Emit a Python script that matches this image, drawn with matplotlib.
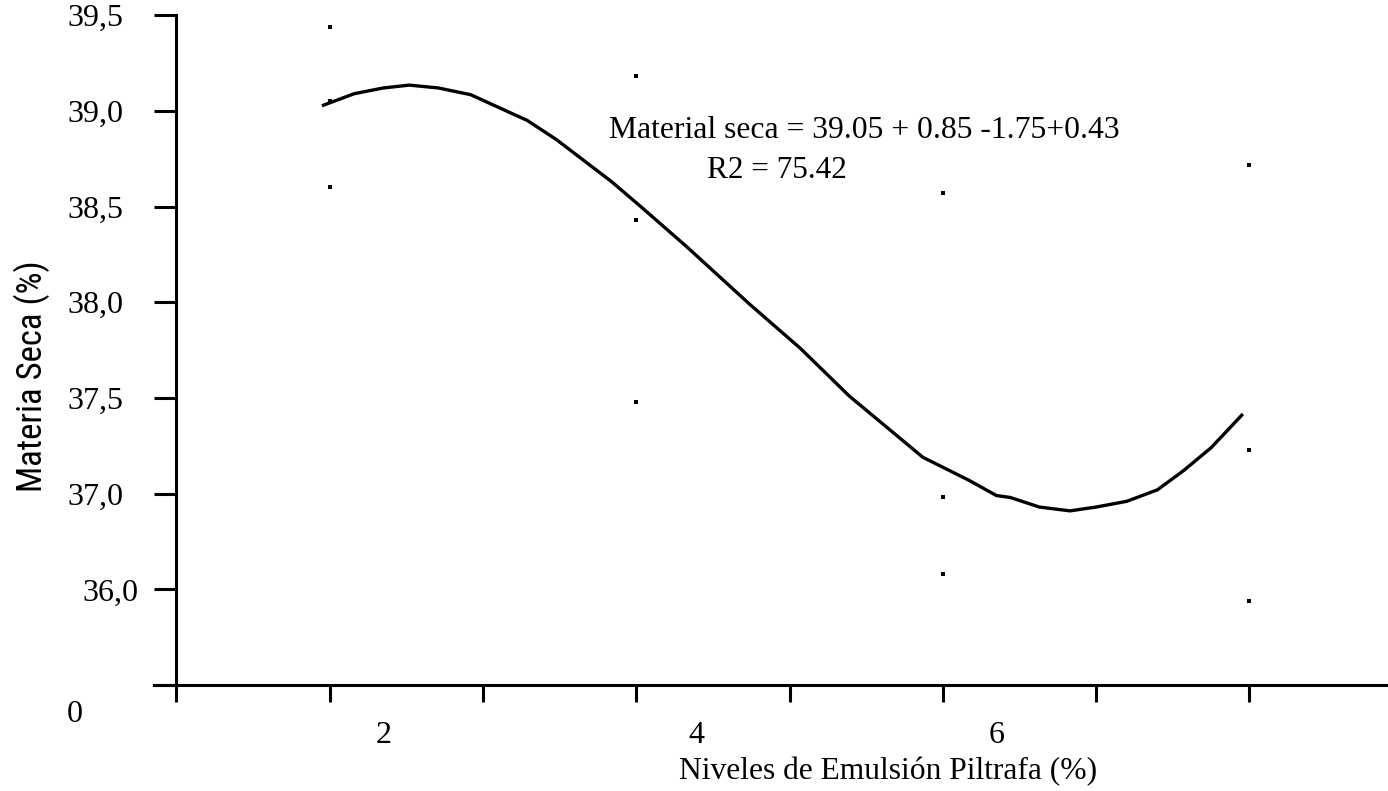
import matplotlib
matplotlib.use("Agg")
import matplotlib.pyplot as plt
from matplotlib.transforms import ScaledTranslation

# observed values (three replicates per level)
levels = [2, 2, 2, 4, 4, 4, 6, 6, 6, 8, 8, 8]
dry_matter = [39.44, 39.05, 38.60, 39.18, 38.43, 37.48,
              38.57, 36.98, 36.58, 38.72, 37.23, 36.44]

# fitted cubic curve
fit_x = [1.96, 2.16, 2.35, 2.52, 2.71, 2.92, 3.29, 3.48, 3.84, 4.03, 4.33,
         4.74, 5.07, 5.39, 5.87, 6.07, 6.17, 6.35, 6.44, 6.63, 6.83, 7.00,
         7.20, 7.40, 7.57, 7.75, 7.95]
fit_y = [39.03, 39.09, 39.12, 39.135, 39.12, 39.085, 38.95, 38.85, 38.63,
         38.50, 38.29, 37.99, 37.76, 37.51, 37.19, 37.11, 37.07, 36.99,
         36.98, 36.93, 36.91, 36.93, 36.96, 37.02, 37.12, 37.24, 37.41]

y_ticks = [36.0, 36.5, 37.0, 37.5, 38.0, 38.5, 39.0, 39.5]
y_labels = ["", "36,0", "37,0", "37,5", "38,0", "38,5", "39,0", "39,5"]
x_ticks = [1, 2, 3, 4, 5, 6, 7, 8]
x_labels = ["2", "4", "6"]
x_label_pos = [2.355, 4.39, 6.35]

SERIF = ["Liberation Serif", "DejaVu Serif"]

fig = plt.figure(figsize=(13.88, 7.91), dpi=100)
ax = fig.add_axes([0.111, 0.134, 0.889, 0.8467])

ax.plot(fit_x, fit_y, color="black", lw=2.4, solid_joinstyle="miter")
ax.scatter(levels, dry_matter, marker="s", s=8, color="black", linewidths=0)

ax.set_xlim(0.855, 8.904)
ax.set_ylim(36.0, 39.5)

for side in ("top", "right"):
    ax.spines[side].set_visible(False)
ax.spines["left"].set_position(("data", 1))
ax.spines["left"].set_linewidth(2.2)
ax.spines["bottom"].set_linewidth(2.2)

ax.set_yticks(y_ticks)
ax.set_yticklabels(y_labels, fontfamily=SERIF, fontsize=23)
ax.tick_params(axis="y", direction="out", length=16, width=2.2, pad=22)
ax.set_xticks(x_ticks)
ax.set_xticklabels([])
ax.tick_params(axis="x", direction="out", length=12, width=2.2)

# the lowest label sits a bit further right in the original
shift = ScaledTranslation(0.15, 0, fig.dpi_scale_trans)
lab = ax.get_yticklabels()[1]
lab.set_transform(lab.get_transform() + shift)

for pos, txt in zip(x_label_pos, x_labels):
    ax.text(pos, -0.075, txt, transform=ax.get_xaxis_transform(),
            ha="center", va="center", fontfamily=SERIF, fontsize=23)

fig.text(75 / 1388, 1 - 714 / 791, "0", ha="center", va="center",
         fontfamily=SERIF, fontsize=23)

fig.text(888 / 1388, 1 - 772 / 791, "Niveles de Emulsión Piltrafa (%)",
         ha="center", va="center", fontfamily=SERIF, fontsize=22.7)
fig.text(32 / 1388, 1 - 376 / 791, "Materia Seca (%)", rotation=90,
         ha="center", va="center", fontsize=25,
         fontfamily=["Roboto Condensed", "Liberation Sans", "DejaVu Sans"])

ax.text(864 / 1388, 1 - 131 / 791, "Material seca = 39.05 + 0.85 -1.75+0.43",
        transform=fig.transFigure, ha="center", va="center",
        fontfamily=SERIF, fontsize=22.8)
ax.text(777 / 1388, 1 - 170 / 791, "R2 = 75.42",
        transform=fig.transFigure, ha="center", va="center",
        fontfamily=SERIF, fontsize=22.5)

fig.savefig("out.png", dpi=100)
